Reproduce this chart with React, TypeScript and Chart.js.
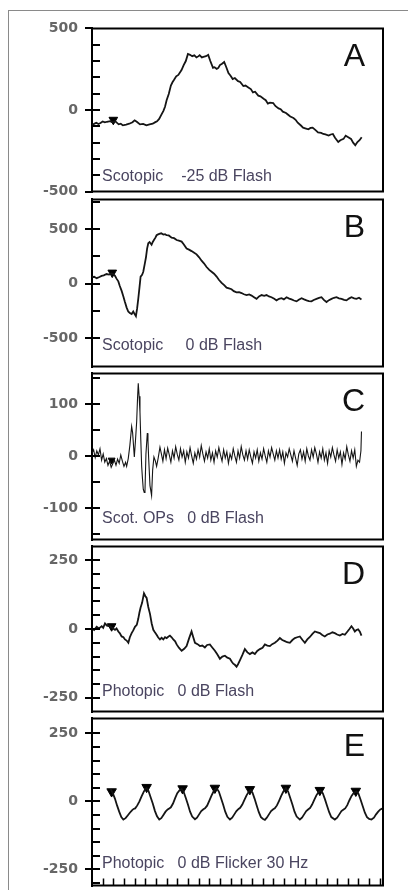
import React, { useEffect, useRef } from "react";
import { Chart, registerables } from "chart.js";

Chart.register(...registerables);

// ---------------- DATA ----------------
const panelLetters = ["A", "B", "C", "D", "E"];
const panelConditions = [
  "Scotopic    -25 dB Flash",
  "Scotopic     0 dB Flash",
  "Scot. OPs   0 dB Flash",
  "Photopic   0 dB Flash",
  "Photopic   0 dB Flicker 30 Hz",
];
const yMins = [-500, -760, -161, -300, -310];
const yMaxs = [500, 770, 159, 300, 305];
const tickLabelsA = [-500, 0, 500];
const tickLabelsB = [-500, 0, 500];
const tickLabelsC = [-100, 0, 100];
const tickLabelsD = [-250, 0, 250];
const tickLabelsE = [-250, 0, 250];
const minorSteps = [100, 250, 50, 50, 50];
const timeMin = 0;
const timeMax = 273;
const timeTickStep = 10;

// time (ms), amplitude (µV)
const traceA: number[][] = [
  [0, -94], [2, -85], [4, -78], [6, -86], [8, -80], [10, -70], [12, -76], [14, -72], [17, -68], [19, -75],
  [22, -70], [25, -88], [27, -84], [29, -94], [32, -90], [35, -84], [38, -75], [40, -63], [42, -72], [45, -88],
  [48, -85], [51, -94], [54, -88], [57, -84], [59, -76], [61, -69], [63, -55], [65, -30], [67, -5], [68.5, 20],
  [70, 60], [72, 98], [74, 150], [75.5, 170], [77, 185], [79, 206], [81, 215], [84, 245], [86, 275], [88, 300],
  [90, 343], [92, 338], [94, 330], [96, 335], [98, 322], [100, 330], [101, 336], [103, 322], [104.5, 326], [107, 330],
  [109, 338], [111, 300], [113.5, 258], [115, 262], [117, 252], [118.5, 258], [120, 275], [122, 284], [124, 294], [126, 262],
  [128, 226], [130, 210], [132, 190], [134, 196], [137, 177], [139, 172], [142, 147], [144, 150], [147, 137], [149, 128],
  [151, 108], [153, 112], [156, 88], [158, 84], [161, 69], [163, 60], [165, 39], [167, 45], [170, 43], [172, 25],
  [175, 10], [177, 5], [179, -10], [182, -18], [184, -29], [186, -40], [189, -49], [191, -60], [193, -78], [196, -95],
  [198, -108], [200, -112], [203, -118], [205, -110], [207, -108], [210, -125], [212, -137], [215, -140], [217, -147], [219, -150],
  [222, -157], [224, -150], [226, -147], [228, -170], [231, -196], [233, -185], [236, -177], [238, -157], [240, -165], [243, -177],
  [245, -200], [247, -216], [249, -196], [251, -185], [253, -167],
];
const markersA: number[][] = [[20, -60]];

const traceB: number[][] = [
  [0, 58], [2, 62], [4.4, 49], [7, 60], [9, 70], [11, 75], [13.7, 87], [16, 82], [18.4, 93], [20, 85],
  [21.6, 70], [23, 45], [24.7, 20], [26, -20], [27.8, -67], [29.5, -120], [30.9, -169], [32.5, -220], [34, -256], [35.5, -270],
  [37.2, -279], [38.7, -256], [40, -280], [41.2, -299], [42.3, -230], [43.4, -140], [44.5, -40], [45.6, 64], [47, 80], [48.1, 108],
  [49.5, 180], [50.6, 238], [51.7, 320], [52.8, 369], [54, 380], [55.9, 355], [57, 380], [58.1, 398], [59.5, 420], [60.6, 442],
  [62, 450], [63.75, 456], [65, 460], [66.9, 448], [68.5, 452], [70, 442], [72, 440], [74.7, 419], [77, 415], [79.4, 398],
  [81.5, 392], [84.1, 384], [86, 360], [88.75, 320], [91, 310], [93.4, 297], [95.5, 285], [98.1, 267], [100.5, 240], [102.8, 209],
  [105, 185], [107.5, 151], [110, 125], [112.2, 108], [114.5, 90], [116.9, 64], [119, 35], [121.6, 6], [124, -15], [126.25, -38],
  [128.5, -45], [130.9, -52], [133, -70], [135.6, -81], [138, -78], [140.3, -87], [142.5, -98], [145, -105], [147.5, -100], [149.7, -110],
  [152, -125], [154.4, -140], [156.7, -118], [159.1, -105], [161.5, -112], [163.75, -105], [166, -118], [168.4, -125], [171, -140], [173.1, -154],
  [175.5, -140], [177.8, -134], [180, -145], [182.5, -125], [185, -138], [187.2, -145], [189.5, -155], [191.9, -163], [194, -148], [196.6, -134],
  [199, -145], [201.25, -154], [203.5, -160], [205.9, -163], [208, -150], [210.6, -140], [213, -132], [215.3, -125], [217.5, -150], [220, -169],
  [222.3, -152], [224.7, -140], [227, -130], [229.4, -125], [231.7, -135], [234.1, -140], [236.5, -150], [238.75, -154], [241, -138], [243.4, -125],
  [246, -135], [248.1, -140], [250.5, -130], [252.8, -145],
];
const markersB: number[][] = [[19, 100]];

const traceC: number[][] = [
  [0, 5], [1.5, 12], [3, -3], [4.5, 10], [6, 2], [7.5, 14], [9, -8], [10.5, 4], [12, -12], [13.5, -5],
  [15, -18], [16.5, -10], [18, -22], [19.5, -15], [21, -8], [22.5, -18], [24, -6], [25.5, -14], [27, 2], [28.5, -10],
  [30, -20], [31.5, -12], [32.5, -20], [34, -5], [35.5, 20], [37.2, 57], [38.1, 45], [39.7, -2], [40.8, 30], [41.9, 66],
  [42.7, 110], [43.4, 140], [44.2, 115], [45, 85], [45.8, 30], [46.6, -20], [47.4, -45], [48.1, -64], [49, -70], [49.7, -68],
  [50.6, 4], [51.9, 44], [52.5, 30], [53.1, -2], [54.4, -57], [55.9, -76], [56.9, -27], [58.1, -2], [59.5, -10], [60.6, -20],
  [62, -5], [63.75, 17], [65, 5], [66.5, -10], [68, 12], [69.5, -5], [71, 15], [72.5, 2], [74, -12], [75.5, 10],
  [77, -4], [78.5, 18], [80, 3], [81.5, -8], [83, 14], [84.5, -2], [86, 10], [87.5, -12], [89, 8], [90.5, -4],
  [92, 16], [93.5, 0], [95, -14], [96.5, 6], [98, -6], [99.5, 12], [101, -2], [102.5, 20], [104, 4], [105.5, -10],
  [107, 8], [108.5, -4], [110, 14], [111.5, -8], [113, 6], [114.5, -12], [116, 10], [117.5, -2], [119, 16], [120.5, 2],
  [122, -10], [123.5, 12], [125, -4], [126.5, 8], [128, -14], [129.5, 4], [131, -6], [132.5, 14], [134, 0], [135.5, -12],
  [137, 10], [138.5, -4], [140, 18], [141.5, 2], [143, -8], [144.5, 10], [146, -6], [147.5, 12], [149, -2], [150.5, -14],
  [152, 8], [153.5, -4], [155, 12], [156.5, -10], [158, 6], [159.5, -6], [161, 14], [162.5, 0], [164, -12], [165.5, 10],
  [167, -2], [168.5, 16], [170, 4], [171.5, -8], [173, 10], [174.5, -4], [176, 12], [177.5, -6], [179, 8], [180.5, -14],
  [182, 6], [183.5, -2], [185, 14], [186.5, 2], [188, -10], [189.5, 10], [191, -4], [192.5, -18], [194, 4], [195.5, 12],
  [197, -6], [198.5, 8], [200, -10], [201.5, 14], [203, 0], [204.5, -8], [206, 12], [207.5, -2], [209, 16], [210.5, 4],
  [212, -12], [213.5, 8], [215, -4], [216.5, 14], [218, -8], [219.5, 6], [221, -14], [222.5, 10], [224, -2], [225.5, 16],
  [227, 2], [228.5, -10], [230, 12], [231.5, -4], [233, 8], [234.5, -16], [236, 6], [237.5, -6], [239, 18], [240.5, 2],
  [242, -10], [243.5, 10], [245, -4], [246.5, 12], [248, -20], [249.5, -8], [251, -12], [252.3, 10], [252.8, 47],
];
const markersC: number[][] = [[18.4, -8]];

const traceD: number[][] = [
  [0, 2], [2, -4], [4.4, 8], [6.5, 2], [9.1, 10], [10.5, 4], [12.2, 20], [14, 12], [16.9, 10], [19, 4],
  [21.6, -3], [23, 2], [24.7, -9], [26, -15], [27.8, -27], [29.5, -30], [30.9, -38], [32.5, -42], [34.1, -50], [35.5, -30],
  [37.2, -15], [38.7, -5], [40.3, 8], [42, 15], [43.4, 37], [44.5, 60], [45.6, 78], [47, 95], [48.75, 130], [50, 120],
  [51.25, 113], [52.8, 80], [54.4, 55], [56, 20], [57.5, -3], [59, -12], [60.6, -21], [62, -30], [63.75, -38], [65.3, -32],
  [66.9, -38], [68.5, -30], [70, -33], [71.5, -28], [73.1, -24], [74.7, -30], [76.25, -38], [78, -45], [79.4, -56], [81.5, -68],
  [84.1, -79], [86.5, -72], [88.75, -62], [91, -35], [93.4, -9], [95, -30], [96.6, -50], [99, -55], [101.25, -62], [103.5, -60],
  [105.9, -67], [108, -58], [110.6, -56], [113, -68], [115.3, -79], [117.5, -92], [120, -108], [122.3, -100], [124.7, -97], [127, -104],
  [129.4, -108], [131, -118], [132.5, -126], [134, -130], [135.6, -137], [137, -128], [138.75, -114], [141, -95], [143.4, -73], [145.8, -85],
  [148.1, -91], [150.5, -85], [152.8, -91], [155, -80], [157.5, -73], [160, -68], [162.2, -56], [164.5, -60], [166.9, -62], [169, -55],
  [171.6, -50], [174, -42], [176.25, -33], [178.5, -40], [180.9, -44], [183, -48], [185.6, -50], [188, -40], [190.3, -33], [192.5, -30],
  [195, -27], [197.5, -40], [199.7, -50], [202, -38], [204.4, -29], [206.8, -18], [209.1, -9], [211.5, -12], [213.75, -15], [216, -22],
  [218.4, -27], [220.8, -20], [223.1, -17], [225.5, -12], [227.8, -15], [230, -20], [232.5, -24], [235, -18], [237.2, -21], [239.5, -10],
  [241.5, 0], [243.4, 10], [245, 2], [246.6, -9], [248, -4], [249.7, -1], [251.3, -10], [252.8, -24],
];
const markersD: number[][] = [[18.4, 10]];

const traceE: number[][] = [
  [17.5, 45], [19.5, 30], [21.5, 10], [23.5, -15], [25.5, -38], [27.5, -58], [29.4, -67], [31.5, -62], [33.5, -52], [35.5, -42],
  [37.5, -33], [39, -28], [40.5, -26], [42.5, -15], [44.5, 0], [46.5, 18], [48.5, 35], [50, 45], [51.25, 48],
  [53, 38], [55, 15], [57, -8], [59, -35], [61, -55], [63.1, -67], [65, -62], [67, -50], [69, -38], [71, -30],
  [72.5, -26], [74, -22], [76, -8], [78, 12], [80, 30], [82, 40], [84.1, 45],
  [86, 35], [88, 12], [90, -12], [92, -38], [94, -56], [96.6, -66], [98.5, -60], [100.5, -48], [102.5, -36], [104.5, -29],
  [106, -26], [108, -16], [110, 2], [112, 20], [114, 36], [115.5, 44], [116.9, 48],
  [119, 36], [121, 12], [123, -12], [125, -38], [127, -57], [129.4, -67], [131.5, -60], [133.5, -48], [135.5, -36], [137.5, -28],
  [139, -24], [141, -12], [143, 5], [145, 22], [147, 35], [148.75, 41],
  [150.5, 33], [152.5, 10], [154.5, -15], [156.5, -40], [158.5, -58], [160.5, -65], [162.2, -68], [164, -60], [166, -48], [168, -36],
  [170, -29], [171.5, -26], [173.5, -15], [175.5, 2], [177.5, 20], [179.5, 36], [181.9, 48],
  [184, 36], [186, 12], [188, -12], [190, -38], [192, -56], [195, -67], [197, -60], [199, -48], [201, -36], [203, -29],
  [204.5, -25], [206.5, -12], [208.5, 5], [210.5, 22], [212.5, 34], [214.4, 39],
  [216.5, 30], [218.5, 8], [220.5, -16], [222.5, -40], [224.5, -58], [227.8, -67], [230, -60], [232, -48], [234, -36], [236, -30],
  [237.5, -26], [239.5, -14], [241.5, 4], [243.5, 20], [245.5, 31], [248.1, 36],
  [250, 28], [252, 6], [254, -18], [256, -42], [258, -58], [260, -65], [262.2, -67], [264.5, -60], [266.5, -48], [268.5, -38],
  [270.5, -30], [272.8, -26],
];
const markersE: number[][] = [
  [18.4, 36], [51.25, 52], [85, 47], [115.3, 49], [148.1, 44], [181.9, 49], [213.75, 41], [247.5, 38],
];

const traces = [traceA, traceB, traceC, traceD, traceE];
const markers = [markersA, markersB, markersC, markersD, markersE];
const tickLabels = [tickLabelsA, tickLabelsB, tickLabelsC, tickLabelsD, tickLabelsE];

// ---------------- LAYOUT ----------------
const PAGE_W = 408;
const PAGE_H = 890;
const AXIS_LEFT = 92;
const AXIS_RIGHT = 383;
const panelTops = [25, 196, 370, 543, 715];
const panelBottoms = [195, 370, 543, 715, 889];
const PAD = 12;
const lineWidths = [1.8, 1.8, 1.1, 1.8, 1.8];
const markerSizes = [5, 5, 4, 5, 5.5];
const conditionOffsets = [15, 21, 21, 20, 22];

const decorPlugin = {
  id: "panelDecor",
  afterDraw(chart: any, _args: any, opts: any) {
    const { ctx, chartArea } = chart;
    const y = chart.scales.y;
    const x = chart.scales.x;
    const { left, right, top, bottom } = chartArea;
    ctx.save();
    // frame (top, right, bottom)
    ctx.strokeStyle = "#000";
    ctx.lineWidth = 2;
    ctx.beginPath();
    ctx.moveTo(left, top);
    ctx.lineTo(right, top);
    ctx.lineTo(right, bottom);
    ctx.lineTo(left, bottom);
    ctx.stroke();
    // inside minor ticks on the y axis
    const step = opts.minor;
    const start = Math.ceil(y.min / step) * step;
    ctx.lineWidth = 2;
    ctx.beginPath();
    for (let v = start; v <= y.max; v += step) {
      const py = Math.round(y.getPixelForValue(v));
      if (py < top + 2 || py > bottom - 2) continue;
      ctx.moveTo(left, py);
      ctx.lineTo(left + 8, py);
    }
    ctx.stroke();
    // x ticks along the bottom (last panel)
    if (opts.xTicks) {
      ctx.lineWidth = 1.5;
      ctx.beginPath();
      for (let t = timeMin + timeTickStep; t < x.max; t += timeTickStep) {
        const px = Math.round(x.getPixelForValue(t)) + 0.5;
        ctx.moveTo(px, bottom);
        ctx.lineTo(px, bottom - 7);
      }
      ctx.stroke();
    }
    // panel letter
    ctx.fillStyle = "#111";
    ctx.font = '32px "Liberation Sans", Arial, sans-serif';
    ctx.textAlign = "right";
    ctx.textBaseline = "alphabetic";
    ctx.fillText(opts.letter, right - 18, top + 38);
    // condition label
    ctx.fillStyle = "#4a4560";
    ctx.font = '16px "Liberation Sans", Arial, sans-serif';
    ctx.textAlign = "left";
    ctx.textBaseline = "middle";
    ctx.fillText(opts.condition, left + 10, bottom - opts.condOffset);
    ctx.restore();
  },
};

function Panel({ index }: { index: number }) {
  const ref = useRef<HTMLCanvasElement | null>(null);
  const height = panelBottoms[index] - panelTops[index] + 2 * PAD;

  useEffect(() => {
    if (!ref.current) return;
    const chart = new Chart(ref.current, {
      type: "line",
      data: {
        datasets: [
          {
            data: traces[index].map(([t, v]) => ({ x: t, y: v })),
            borderColor: "#151515",
            borderWidth: lineWidths[index],
            pointRadius: 0,
            tension: 0,
            fill: false,
          },
          {
            data: markers[index].map(([t, v]) => ({ x: t, y: v })),
            showLine: false,
            pointStyle: "triangle",
            rotation: 180,
            pointRadius: markerSizes[index],
            backgroundColor: "#000",
            borderColor: "#000",
            borderWidth: 1,
          },
        ],
      },
      options: {
        animation: false,
        responsive: false,
        maintainAspectRatio: false,
        events: [],
        layout: { padding: { left: 0, right: PAGE_W - AXIS_RIGHT, top: PAD, bottom: PAD } },
        plugins: {
          legend: { display: false },
          tooltip: { enabled: false },
          panelDecor: {
            letter: panelLetters[index],
            condition: panelConditions[index],
            minor: minorSteps[index],
            xTicks: index === 4,
            condOffset: conditionOffsets[index],
          },
        } as any,
        scales: {
          x: { type: "linear", min: timeMin, max: timeMax, display: false },
          y: {
            type: "linear",
            min: yMins[index],
            max: yMaxs[index],
            afterBuildTicks: (s: any) => {
              s.ticks = tickLabels[index].map((v) => ({ value: v }));
            },
            afterFit: (s: any) => {
              s.width = AXIS_LEFT;
            },
            border: { display: true, color: "#000", width: 2 },
            grid: {
              display: true,
              drawOnChartArea: false,
              drawTicks: true,
              tickLength: 7,
              color: "#000",
              lineWidth: 2,
            },
            ticks: {
              padding: 7,
              color: "#666",
              font: { family: '"DejaVu Sans", sans-serif', weight: "bold", size: 14 },
              callback: (v: any) => String(v),
            },
          },
        },
      },
      plugins: [decorPlugin],
    });
    return () => chart.destroy();
  }, [index]);

  return (
    <canvas
      ref={ref}
      width={PAGE_W}
      height={height}
      style={{
        position: "absolute",
        left: 0,
        top: panelTops[index] - PAD,
        width: PAGE_W,
        height,
      }}
    />
  );
}

export default function App() {
  return (
    <div
      style={{
        position: "absolute",
        left: 0,
        top: 0,
        width: PAGE_W,
        height: PAGE_H,
        overflow: "hidden",
        background: "#fff",
      }}
    >
      <div
        style={{
          position: "absolute",
          left: 8,
          top: 10,
          width: 430,
          height: 920,
          border: "1px solid #8a8a8a",
        }}
      />
      {panelLetters.map((_, i) => (
        <Panel key={i} index={i} />
      ))}
    </div>
  );
}
